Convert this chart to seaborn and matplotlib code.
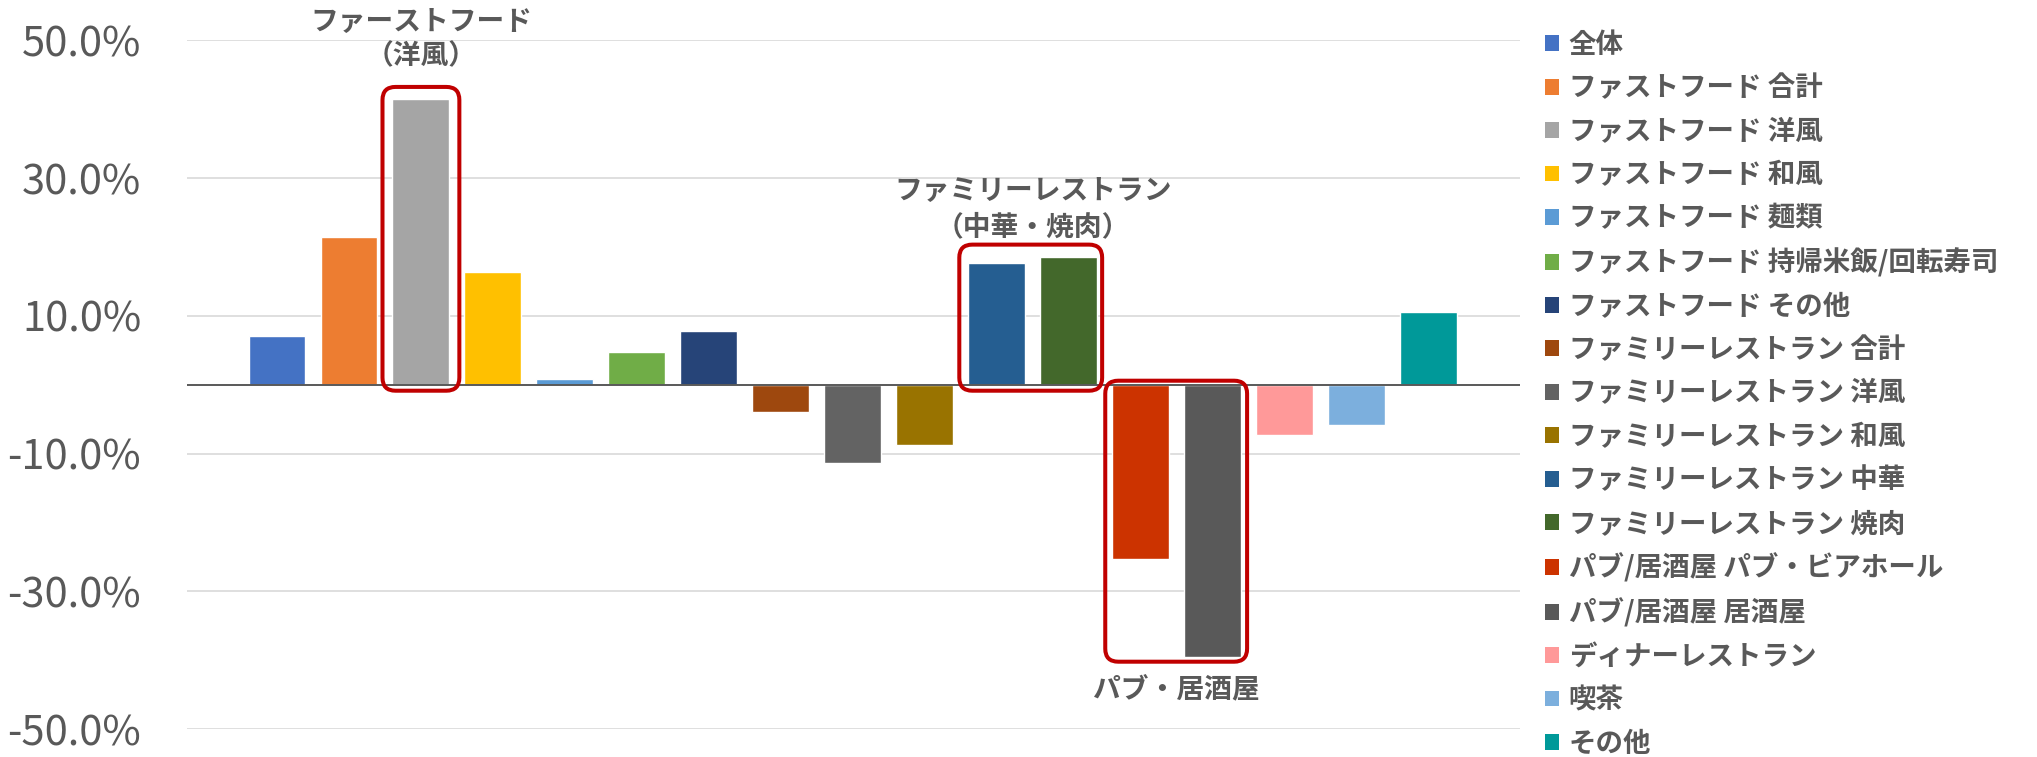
import matplotlib
matplotlib.use("Agg")
import matplotlib.pyplot as plt
import seaborn as sns
from matplotlib.patches import Patch, FancyBboxPatch
from matplotlib.transforms import IdentityTransform

# data (percent change)
categories = [
    "全体",
    "ファストフード 合計",
    "ファストフード 洋風",
    "ファストフード 和風",
    "ファストフード 麺類",
    "ファストフード 持帰米飯/回転寿司",
    "ファストフード その他",
    "ファミリーレストラン 合計",
    "ファミリーレストラン 洋風",
    "ファミリーレストラン 和風",
    "ファミリーレストラン 中華",
    "ファミリーレストラン 焼肉",
    "パブ/居酒屋 パブ・ビアホール",
    "パブ/居酒屋 居酒屋",
    "ディナーレストラン",
    "喫茶",
    "その他",
]
values = [7.0, 21.5, 41.5, 16.3, 0.9, 4.7, 7.8, -4.0, -11.4, -8.7,
          17.7, 18.6, -25.3, -39.5, -7.3, -5.8, 10.5]
colors = ["#4472C4", "#ED7D31", "#A5A5A5", "#FFC000", "#5B9BD5", "#70AD47",
          "#264478", "#9E480E", "#636363", "#997300", "#255E91", "#43682B",
          "#CC3300", "#595959", "#FF9999", "#7CAFDD", "#009999"]
y_ticks = [-50, -30, -10, 10, 30, 50]

# highlighted groups: (first bar, last bar, label lines)
highlights = [
    (2, 2, ["ファーストフード", "（洋風）"]),
    (10, 11, ["ファミリーレストラン", "（中華・焼肉）"]),
    (12, 13, ["パブ・居酒屋"]),
]

sns.set_theme(style="white")
plt.rcParams["font.family"] = ["Noto Sans CJK JP", "DejaVu Sans"]

grey = "#595959"
W, H = 2037, 757
fig = plt.figure(figsize=(W / 100, H / 100), dpi=100)
ax = fig.add_axes([187 / W, 1 - 729 / H, 1333 / W, 688.6 / H])

bw = 0.79
sns.barplot(x=categories, y=values, hue=categories, palette=colors,
            order=categories, hue_order=categories, width=bw,
            legend=False, saturation=1, ax=ax)

ax.set_xlim(-1.25, 17.27)
ax.set_ylim(-50, 50)
ax.set_xticks([])
ax.set_yticks(y_ticks)
ax.set_yticklabels([f"{t:.1f}%" for t in y_ticks])
ax.tick_params(axis="y", length=0, pad=33, labelsize=30, labelcolor=grey)
ax.set_xlabel("")
ax.set_ylabel("")
for s in ax.spines.values():
    s.set_visible(False)
ax.grid(axis="y", color="#D9D9D9", linewidth=1.2)
ax.set_axisbelow(True)
ax.axhline(0, color=grey, linewidth=1.4, zorder=3)

# red rounded boxes in pixel space
pads = [(10, 10, 6, 12), (9, 5, 6, 12), (7, 6, 4, 5)]  # left, right, zero side, value side
for (i0, i1, lines), (pl, pr, pz, pv) in zip(highlights, pads):
    vals = values[i0:i1 + 1]
    lo = min(0, min(vals))
    hi = max(0, max(vals))
    x0, y0 = ax.transData.transform((i0 - bw / 2, lo))
    x1, y1 = ax.transData.transform((i1 + bw / 2, hi))
    if hi > 0:
        y0 -= pz
        y1 += pv
    else:
        y0 -= pv
        y1 += pz
    x0 -= pl
    x1 += pr
    box = FancyBboxPatch((x0, y0), x1 - x0, y1 - y0,
                         boxstyle="round,pad=0,rounding_size=13",
                         transform=IdentityTransform(), fill=False,
                         edgecolor="#C00000", linewidth=2.9)
    fig.add_artist(box)

# group labels (pixel rows from the top of the image)
label_rows = [[22, 57], [191, 228], [690]]
for (i0, i1, lines), rows in zip(highlights, label_rows):
    xc = (i0 + i1) / 2
    for txt, py in zip(lines, rows):
        yv = (385 - py) / 6.886
        ax.text(xc, yv, txt, ha="center", va="center", fontsize=20,
                fontweight="bold", color=grey, clip_on=False)

handles = [Patch(facecolor=c, edgecolor="none") for c in colors]
fig.legend(handles, categories, loc="upper left",
           bbox_to_anchor=(1545 / W, 1 - 31 / H), frameon=False,
           borderpad=0, borderaxespad=0, handlelength=0.51,
           handleheight=0.51, handletextpad=0.35, labelspacing=0.56,
           prop={"size": 19.8, "weight": "bold"}, labelcolor=grey)

fig.savefig("out.png", dpi=100)
